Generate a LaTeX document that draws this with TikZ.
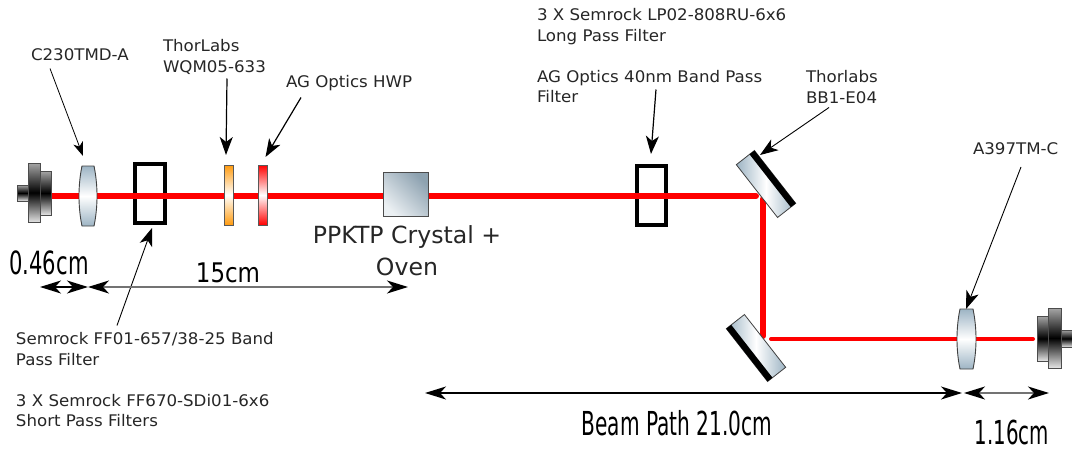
\documentclass[tikz,border=0pt]{standalone}
\usepackage{fontspec}
\setmainfont{DejaVu Sans}
\usetikzlibrary{arrows.meta,calc}
\definecolor{beam_red}{HTML}{FF0000}
\definecolor{glass_blue}{HTML}{9DB4C4}
\definecolor{text_gray}{HTML}{262626}
\definecolor{plate_orange}{HTML}{FF9B0F}

\begin{document}
\begin{tikzpicture}[x=1pt, y=-1pt, >={Stealth[inset=4pt,length=14pt,width=10pt]},
    every node/.style={inner sep=0pt, outer sep=0pt},
    label_text/.style={anchor=north west, align=left, text=text_gray, xscale=1.04, font=\fontsize{16}{20.5}\selectfont},
    big_text/.style={align=center, text=text_gray, font=\fontsize{23.6}{32}\selectfont},
    dim_text/.style={text=black, xscale=#1},
    beam/.style={beam_red, line width=6pt, line cap=round},
    note/.style={->, line width=0.8pt, black},
    note_bold/.style={->, line width=1.2pt, black, >={Stealth[inset=5pt,length=18pt,width=13pt]}},
    dim/.style={<->, line width=1.4pt, #1, >={Stealth[inset=6pt,length=21pt,width=13pt,black]}},
    filter_box/.style={draw=black, line width=3.8pt, minimum width=29.5pt, minimum height=59pt},
    plate/.style={draw=black!65, line width=1pt, minimum width=9pt, minimum height=60pt, top color=#1, bottom color=#1, middle color=white},
    crystal_box/.style={draw=black!70, line width=1pt, minimum width=45pt, minimum height=44pt, top color=glass_blue!90!black, bottom color=glass_blue!20, shading angle=-45},
    mirror_box/.style={draw=black!75, line width=0.8pt, minimum width=67pt, minimum height=23pt, left color=glass_blue, right color=glass_blue, middle color=white, rotate=-52},
    mount_part/.style={draw=black!70, line width=0.9pt, top color=black!35, bottom color=black!10, middle color=black},
    lens_part/.style={draw=black!75, line width=0.9pt, top color=glass_blue, bottom color=glass_blue, middle color=white},
    ]
    \useasboundingbox (0,0) rectangle (1072,450);

    \node[filter_box] (filter_left) at (150,193.5) {};
    \node[filter_box] (filter_right) at (651.5,195.5) {};

    % beam path
    \coordinate (beam_start) at (51,196);
    \coordinate (fold_in) at (756,196);
    \coordinate (fold_top) at (763,199);
    \coordinate (fold_bottom) at (763,336);
    \coordinate (out_start) at (771,339);
    \coordinate (out_end) at (1033,339);
    \draw[beam] (beam_start) -- (fold_in);
    \draw[beam] (fold_top) -- (fold_bottom);
    \draw[beam, line width=4pt] (out_start) -- (out_end);

    % left fibre mount and lens
    \draw[mount_part] (17,185) rectangle (28,201);
    \draw[mount_part] (40,171) rectangle (51.5,215);
    \draw[mount_part] (28,163) rectangle (40,222.5);
    \draw[lens_part] (82,166) -- (94,166) .. controls (98,185) and (98,207) .. (94,226) -- (82,226) .. controls (78,207) and (78,185) .. (82,166) -- cycle;
    \coordinate (lens_left) at (83,156);

    \node[plate=plate_orange] (plate_wqm) at (228.5,195) {};
    \node[plate=beam_red] (plate_hwp) at (263,195) {};
    \node[crystal_box] (crystal) at (406,194.5) {};

    % mirrors
    \node[mirror_box] (mirror_top) at (766,184) {};
    \fill[black] (mirror_top.north west) -- (mirror_top.north east) -- ($(mirror_top.north east)!0.27!(mirror_top.south east)$) -- ($(mirror_top.north west)!0.27!(mirror_top.south west)$) -- cycle;
    \node[mirror_box] (mirror_bottom) at (756,348) {};
    \fill[black] (mirror_bottom.south west) -- (mirror_bottom.south east) -- ($(mirror_bottom.south east)!0.27!(mirror_bottom.north east)$) -- ($(mirror_bottom.south west)!0.27!(mirror_bottom.north west)$) -- cycle;

    % right lens and mount
    \draw[lens_part] (960,309) -- (973,309) .. controls (977,328) and (977,350) .. (973,369) -- (960,369) .. controls (956,350) and (956,328) .. (960,309) -- cycle;
    \coordinate (lens_right) at (966,309);
    \draw[mount_part] (1061,330) rectangle (1072,347);
    \draw[mount_part] (1037,316) rectangle (1048,361);
    \draw[mount_part] (1048,308) rectangle (1061,368);

    % labels
    \node[label_text] (label_c230) at (31,48.5) {C230TMD-A};
    \node[label_text] (label_wqm) at (163,39.5) {ThorLabs\\WQM05-633};
    \node[label_text] (label_hwp) at (286,75.5) {AG Optics HWP};
    \node[label_text] (label_top) at (537,8.5) {3 X Semrock LP02-808RU-6x6\\Long Pass Filter\\[20.5pt]AG Optics 40nm Band Pass\\Filter};
    \node[label_text] (label_bb1) at (806,70.5) {Thorlabs\\BB1-E04};
    \node[label_text] (label_a397) at (973,143) {A397TM-C};
    \node[label_text] (label_semrock) at (16,332.5) {Semrock FF01-657/38-25 Band\\Pass Filter\\[20.5pt]3 X Semrock FF670-SDi01-6x6\\Short Pass Filters};
    \node[big_text] (label_crystal) at (407,251) {PPKTP Crystal +\\Oven};

    \draw[note] ([shift={(19,20)}]label_c230.north west) -- (lens_left);
    \draw[note_bold] ([shift={(64,39)}]label_wqm.north west) -- (226,155);
    \draw[note_bold] ([shift={(15,22)}]label_hwp.north west) -- (265.5,157);
    \draw[note_bold] ([shift={(119,81)}]label_top.north west) -- (651,154);
    \draw[note_bold, line width=0.9pt] ([shift={(23,37)}]label_bb1.north west) -- (760,155);
    \draw[note_bold, line width=0.9pt] ([shift={(48,24)}]label_a397.north west) -- (lens_right);
    \draw[note_bold, line width=0.9pt] ([shift={(101,-7)}]label_semrock.north west) -- (152,228);

    % dimensions
    \coordinate (dim_a) at (40,287);
    \coordinate (dim_b) at (88,287);
    \coordinate (dim_c) at (408,287);
    \coordinate (dim_d) at (425,393);
    \coordinate (dim_e) at (962,393);
    \coordinate (dim_f) at (964,393);
    \coordinate (dim_g) at (1049,393);
    \draw[dim=black] (dim_a) -- (dim_b);
    \draw[dim=black!55] (dim_b) -- (dim_c);
    \draw[dim=black] (dim_d) -- (dim_e);
    \draw[dim=black!55] (dim_f) -- (dim_g);
    \node[dim_text=0.66, font=\fontsize{32}{36}\selectfont] (dim_small) at (49,263) {0.46cm};
    \node[dim_text=0.85, font=\fontsize{27}{32}\selectfont] (dim_long) at (228,273) {15cm};
    \node[dim_text=0.61, font=\fontsize{33}{36}\selectfont] (dim_path) at (677,423) {Beam Path 21.0cm};
    \node[dim_text=0.6, font=\fontsize{33}{36}\selectfont] (dim_out) at (1012,432) {1.16cm};

\end{tikzpicture}
\end{document}
